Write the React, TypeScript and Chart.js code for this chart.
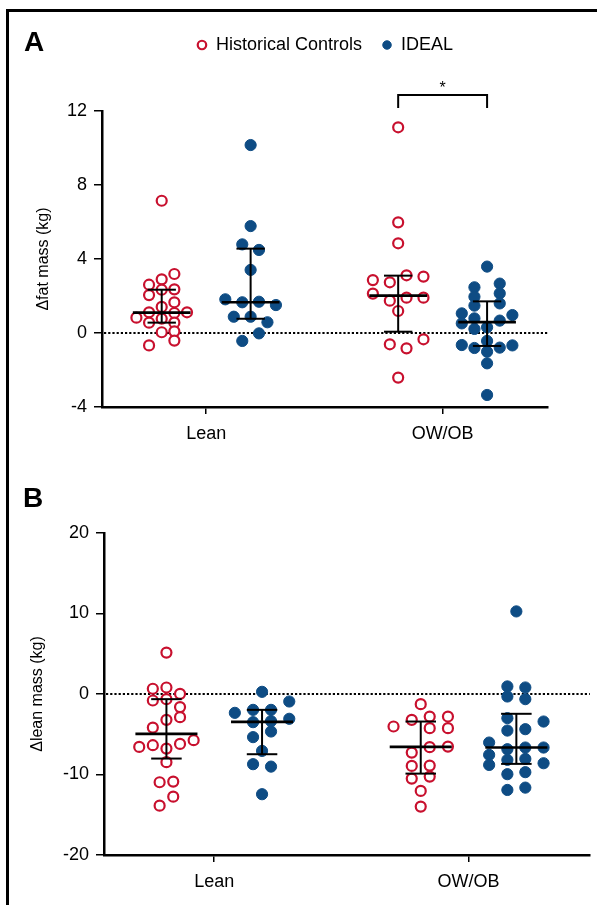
import React, { useEffect, useRef } from "react";
import { Chart, registerables } from "chart.js";

Chart.register(...registerables);

const FONT = '"Liberation Sans", Arial, Helvetica, sans-serif';
const RED = "#C8102E";
const BLUE = "#0E4C84";

const categories = ["Lean", "OW/OB"];
const seriesLabels = ["Historical Controls", "IDEAL"];

const fatTicks = [-4, 0, 4, 8, 12];
const leanTicks = [-20, -10, 0, 10, 20];

// ---------- Panel A: Δfat mass (kg) ----------
const fatHcLean = [7.15, 3.19, 2.9, 2.61, 2.36, 2.34, 2.05, 1.66, 1.41, 1.12, 1.08, 1.12, 0.83, 0.77, 0.56, 0.56, 0.04, 0.09, -0.41, -0.67];
const fatHcLeanCol = [0, 1, 0, -1, 1, 0, -1, 1, 0, -1, 1, 2, -2, 0, -1, 1, 0, 1, 1, -1];
const fatHcLeanStats = [1.1, 0.56, 2.34]; // median, Q1, Q3

const fatIdealLean = [10.16, 5.78, 4.79, 4.49, 3.41, 1.82, 1.66, 1.69, 1.51, 0.88, 0.88, 0.58, -0.02, -0.43];
const fatIdealLeanCol = [0, 0, -0.66, 0.66, 0, -2, -0.66, 0.66, 2, -1.33, 0, 1.33, 0.66, -0.66];
const fatIdealLeanStats = [1.66, 0.77, 4.56];

const fatHcOw = [11.12, 5.98, 4.85, 3.12, 3.05, 2.86, 2.74, 2.13, 1.75, 1.91, 1.91, 1.19, -0.34, -0.61, -0.83, -2.41];
const fatHcOwCol = [0, 0, 0, 0.66, 2, -2, -0.66, -2, -0.66, 0.66, 2, 0, 2, -0.66, 0.66, 0];
const fatHcOwStats = [2.02, 0.07, 3.1];

const fatIdealOw = [3.59, 2.47, 2.67, 1.96, 2.14, 1.48, 1.6, 1.06, 0.97, 0.79, 0.52, 0.67, 0.22, 0.31, -0.65, -0.81, -0.43, -0.79, -0.67, -1.01, -1.64, -3.35];
const fatIdealOwCol = [0, -1, 1, -1, 1, -1, 1, -2, 2, -1, -2, 1, -1, 0, -2, -1, 0, 1, 2, 0, 0, 0];
const fatIdealOwStats = [0.59, -0.7, 1.71];

const fatSigBracket = [12.86, 12.16]; // bracket top, leg bottom
const fatSigStarY = 13.0;
const fatSigLabel = "*";

// ---------- Panel B: Δlean mass (kg) ----------
const leanHcLean = [5.14, 0.65, 0.81, 0.02, -0.81, -0.64, -1.63, -2.88, -3.21, -4.17, -6.57, -6.36, -6.78, -6.2, -5.74, -8.47, -10.96, -10.88, -12.75, -13.87];
const leanHcLeanCol = [0, -1, 0, 1, -1, 0, 1, 1, 0, -1, -2, -1, 0, 1, 2, 0, -0.5, 0.5, 0.5, -0.5];
const leanHcLeanStats = [-4.95, -8.02, -0.64];

const leanIdealLean = [0.27, -0.93, -2.34, -1.97, -1.97, -3.5, -3.37, -3.08, -4.66, -5.36, -7.07, -8.72, -9.02, -12.45];
const leanIdealLeanCol = [0, 2, -2, -0.66, 0.66, -0.66, 0.66, 2, 0.66, -0.66, 0, -0.66, 0.66, 0];
const leanIdealLeanStats = [-3.46, -7.48, -1.97];

const leanHcOw = [-1.26, -3.21, -2.8, -2.8, -4.04, -4.24, -4.24, -6.6, -6.53, -7.28, -8.93, -8.89, -10.51, -10.26, -12.04, -13.99];
const leanHcOwCol = [0, -0.66, 0.66, 2, -2, 0.66, 2, 0.66, 2, -0.66, -0.66, 0.66, -0.66, 0.66, 0, 0];
const leanHcOwStats = [-6.57, -9.89, -3.42];

const leanIdealOw = [10.26, 0.94, 0.81, -0.31, -0.64, -3.0, -3.42, -4.54, -4.37, -6.03, -6.86, -6.65, -6.65, -7.56, -8.18, -8.06, -8.6, -8.81, -9.96, -9.71, -11.92, -11.63];
const leanIdealOwCol = [0, -0.66, 0.66, -0.66, 0.66, -0.66, 2, -0.66, 0.66, -2, -0.66, 0.66, 2, -2, -0.66, 0.66, 2, -2, -0.66, 0.66, -0.66, 0.66];
const leanIdealOwStats = [-6.65, -8.68, -2.46];

// ---------- layout constants ----------
const COL = 0.0535; // beeswarm column width (x data units)
const GROUP_OFFSET = 0.188; // series offset from category centre
const MED_HALF = 0.122;
const CAP_HALF = 0.06;

type Group = { series: number; cat: number; values: number[]; cols: number[]; stats: number[] };

const fatGroups: Group[] = [
  { series: 0, cat: 0, values: fatHcLean, cols: fatHcLeanCol, stats: fatHcLeanStats },
  { series: 1, cat: 0, values: fatIdealLean, cols: fatIdealLeanCol, stats: fatIdealLeanStats },
  { series: 0, cat: 1, values: fatHcOw, cols: fatHcOwCol, stats: fatHcOwStats },
  { series: 1, cat: 1, values: fatIdealOw, cols: fatIdealOwCol, stats: fatIdealOwStats },
];
const leanGroups: Group[] = [
  { series: 0, cat: 0, values: leanHcLean, cols: leanHcLeanCol, stats: leanHcLeanStats },
  { series: 1, cat: 0, values: leanIdealLean, cols: leanIdealLeanCol, stats: leanIdealLeanStats },
  { series: 0, cat: 1, values: leanHcOw, cols: leanHcOwCol, stats: leanHcOwStats },
  { series: 1, cat: 1, values: leanIdealOw, cols: leanIdealOwCol, stats: leanIdealOwStats },
];

const groupCenter = (g: Group) => g.cat + 1 + (g.series === 0 ? -1 : 1) * GROUP_OFFSET;

interface PanelProps {
  groups: Group[];
  ticks: number[];
  title: string;
  xRange: [number, number];
  legend: boolean;
  sig?: { cat: number; bracket: number[]; starY: number; label: string };
  top: number;
  width: number;
  height: number;
  padTop: number;
  padRight: number;
  yAxisW: number;
  xAxisH: number;
  titleX: number;
}

function Panel(p: PanelProps) {
  const ref = useRef<HTMLCanvasElement>(null);
  useEffect(() => {
    if (!ref.current) return;
    const datasets = [0, 1].map((s) => {
      const pts: { x: number; y: number }[] = [];
      p.groups
        .filter((g) => g.series === s)
        .forEach((g) => {
          const c = groupCenter(g);
          g.values.forEach((v, i) => pts.push({ x: c + g.cols[i] * COL, y: v }));
        });
      const red = s === 0;
      return {
        type: "scatter" as const,
        label: seriesLabels[s],
        data: pts,
        pointStyle: "circle",
        pointRadius: red ? 5 : 5.6,
        pointBorderWidth: red ? 2.2 : 1,
        pointBackgroundColor: red ? "#ffffff" : BLUE,
        pointBorderColor: red ? RED : BLUE,
        backgroundColor: red ? "#ffffff" : BLUE,
        borderColor: red ? RED : BLUE,
        borderWidth: red ? 2.2 : 1,
      };
    });

    const zeroLine = {
      id: "zeroLine",
      beforeDatasetsDraw(chart: any) {
        const { ctx, chartArea, scales } = chart;
        const y = scales.y.getPixelForValue(0);
        ctx.save();
        ctx.strokeStyle = "#000";
        ctx.lineWidth = 2.2;
        ctx.setLineDash([2.2, 2]);
        ctx.beginPath();
        ctx.moveTo(chartArea.left + 2, y);
        ctx.lineTo(chartArea.right, y);
        ctx.stroke();
        ctx.restore();
      },
    };

    const summary = {
      id: "summary",
      afterDatasetsDraw(chart: any) {
        const { ctx, scales } = chart;
        const xs = scales.x;
        const ys = scales.y;
        ctx.save();
        ctx.strokeStyle = "#000";
        ctx.lineCap = "butt";
        p.groups.forEach((g) => {
          const c = groupCenter(g);
          const [med, q1, q3] = g.stats;
          const px = xs.getPixelForValue(c);
          ctx.lineWidth = 2;
          ctx.beginPath();
          ctx.moveTo(px, ys.getPixelForValue(q1));
          ctx.lineTo(px, ys.getPixelForValue(q3));
          ctx.stroke();
          [q1, q3].forEach((q) => {
            const py = ys.getPixelForValue(q);
            ctx.beginPath();
            ctx.moveTo(xs.getPixelForValue(c - CAP_HALF), py);
            ctx.lineTo(xs.getPixelForValue(c + CAP_HALF), py);
            ctx.stroke();
          });
          ctx.lineWidth = 2.6;
          const my = ys.getPixelForValue(med);
          ctx.beginPath();
          ctx.moveTo(xs.getPixelForValue(c - MED_HALF), my);
          ctx.lineTo(xs.getPixelForValue(c + MED_HALF), my);
          ctx.stroke();
        });
        ctx.restore();
      },
    };

    const sigPlugin = {
      id: "sig",
      afterDraw(chart: any) {
        if (!p.sig) return;
        const { ctx, scales } = chart;
        const xs = scales.x;
        const ys = scales.y;
        const x1 = xs.getPixelForValue(p.sig.cat + 1 - GROUP_OFFSET);
        const x2 = xs.getPixelForValue(p.sig.cat + 1 + GROUP_OFFSET);
        const yt = ys.getPixelForValue(p.sig.bracket[0]);
        const yb = ys.getPixelForValue(p.sig.bracket[1]);
        ctx.save();
        ctx.strokeStyle = "#000";
        ctx.lineWidth = 2;
        ctx.beginPath();
        ctx.moveTo(x1, yb);
        ctx.lineTo(x1, yt);
        ctx.lineTo(x2, yt);
        ctx.lineTo(x2, yb);
        ctx.stroke();
        ctx.fillStyle = "#000";
        ctx.font = `16px ${FONT}`;
        ctx.textAlign = "center";
        ctx.textBaseline = "alphabetic";
        ctx.fillText(p.sig.label, (x1 + x2) / 2, ys.getPixelForValue(p.sig.starY));
        ctx.restore();
      },
    };

    const legendSpacer = {
      id: "legendSpacer",
      beforeInit(chart: any) {
        const leg = chart.legend;
        if (!leg) return;
        const orig = leg.fit;
        leg.fit = function () {
          orig.call(this);
          if (this.options && this.options.display) this.height += 47;
        };
      },
    };

    const plugins: any[] = [zeroLine, summary, sigPlugin];
    if (p.legend) plugins.push(legendSpacer);

    const chart = new Chart(ref.current, {
      type: "scatter",
      data: { datasets: datasets as any },
      plugins,
      options: {
        responsive: false,
        animation: false,
        devicePixelRatio: 1,
        events: [],
        layout: { padding: { left: 0, top: p.padTop, right: p.padRight, bottom: 0 } },
        plugins: {
          tooltip: { enabled: false },
          legend: p.legend
            ? {
                display: true,
                position: "top",
                fullSize: false,
                labels: {
                  usePointStyle: true,
                  boxWidth: 10,
                  boxHeight: 6,
                  padding: 20,
                  color: "#000",
                  font: { size: 18, family: FONT },
                },
              }
            : { display: false },
        },
        scales: {
          x: {
            type: "linear",
            min: p.xRange[0],
            max: p.xRange[1],
            afterBuildTicks: (s: any) => {
              s.ticks = categories.map((_, i) => ({ value: i + 1 }));
            },
            afterFit: (s: any) => {
              s.height = p.xAxisH;
            },
            ticks: {
              callback: (v: any) => categories[Math.round(Number(v)) - 1] ?? "",
              color: "#000",
              font: { size: 18, family: FONT },
              padding: 9,
              maxRotation: 0,
              autoSkip: false,
            },
            grid: { drawOnChartArea: false, drawTicks: true, tickLength: 7, color: "#000", lineWidth: 1.5 },
            border: { display: true, color: "#000", width: 2.5 },
          },
          y: {
            type: "linear",
            min: p.ticks[0],
            max: p.ticks[p.ticks.length - 1],
            afterBuildTicks: (s: any) => {
              s.ticks = p.ticks.map((v) => ({ value: v }));
            },
            afterFit: (s: any) => {
              s.width = p.yAxisW;
            },
            ticks: { color: "#000", font: { size: 18, family: FONT }, padding: 7 },
            grid: { drawOnChartArea: false, drawTicks: true, tickLength: 8, color: "#000", lineWidth: 1.5 },
            border: { display: true, color: "#000", width: 2.5 },
            title: {
              display: true,
              text: p.title,
              color: "#000",
              font: { size: 16, family: FONT },
              padding: { top: p.titleX - 9.6, bottom: 0 },
            },
          },
        },
      } as any,
    });
    return () => chart.destroy();
  }, []);
  return (
    <canvas
      ref={ref}
      width={p.width}
      height={p.height}
      style={{ position: "absolute", left: 0, top: p.top, width: p.width, height: p.height }}
    />
  );
}

const letterStyle: React.CSSProperties = {
  position: "absolute",
  font: `bold 28px ${FONT}`,
  lineHeight: "28px",
  color: "#000",
  margin: 0,
};

export default function App() {
  return (
    <div
      style={{
        position: "absolute",
        left: 0,
        top: 0,
        width: 597,
        height: 905,
        overflow: "hidden",
        background: "#fff",
        fontFamily: FONT,
      }}
    >
      <div
        style={{
          position: "absolute",
          left: 6,
          top: 9,
          right: -10,
          bottom: -10,
          borderTop: "3px solid #000",
          borderLeft: "3px solid #000",
        }}
      />
      <Panel
        groups={fatGroups}
        ticks={fatTicks}
        title="Δfat mass (kg)"
        xRange={[0.5595, 2.4456]}
        legend={true}
        sig={{ cat: 1, bracket: fatSigBracket, starY: fatSigStarY, label: fatSigLabel }}
        top={0}
        width={597}
        height={460}
        padTop={16}
        padRight={49}
        yAxisW={102}
        xAxisH={53}
        titleX={44}
      />
      <Panel
        groups={leanGroups}
        ticks={leanTicks}
        title="Δlean mass (kg)"
        xRange={[0.5665, 2.4768]}
        legend={false}
        top={470}
        width={597}
        height={435}
        padTop={63}
        padRight={3}
        yAxisW={104}
        xAxisH={50}
        titleX={38}
      />
      <div style={{ ...letterStyle, left: 24, top: 28 }}>A</div>
      <div style={{ ...letterStyle, left: 23, top: 484 }}>B</div>
    </div>
  );
}
